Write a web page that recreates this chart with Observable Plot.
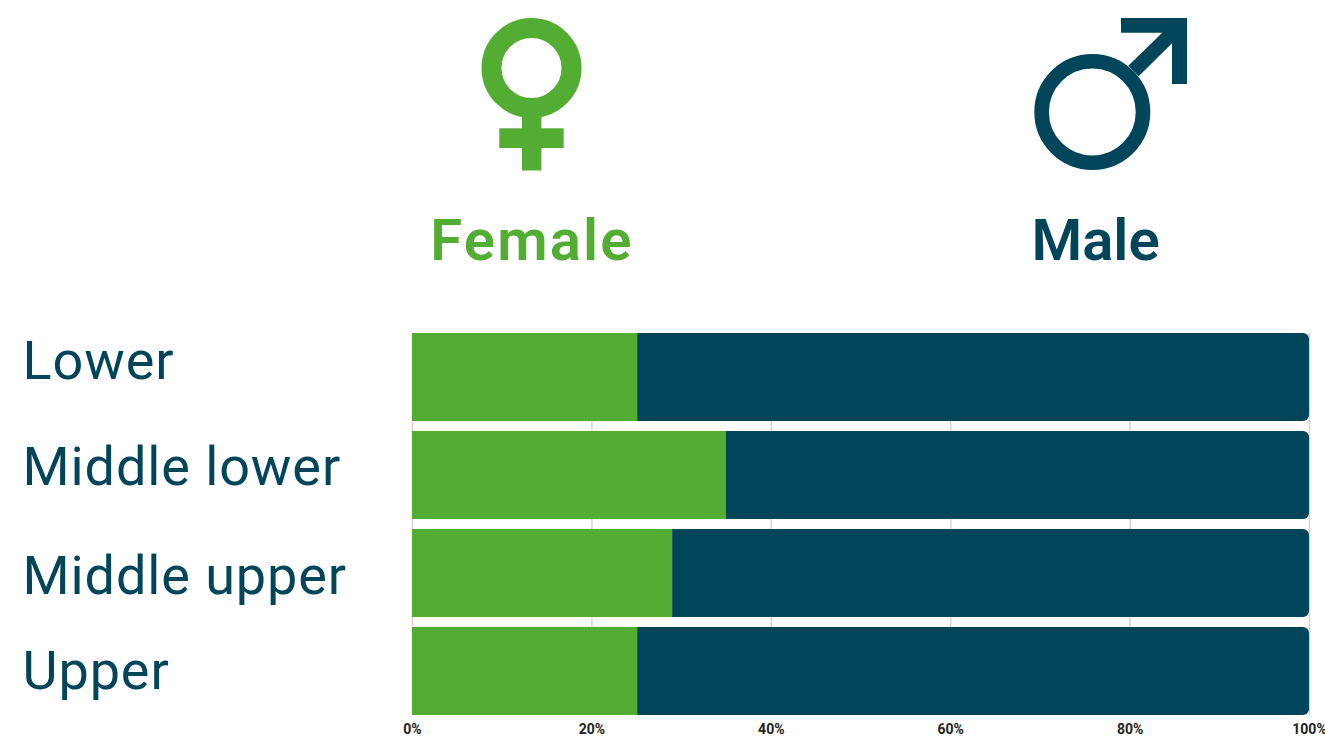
<!DOCTYPE html>
<html>
<head>
<meta charset="utf-8">
<script src="https://cdn.jsdelivr.net/npm/d3@7"></script>
<script src="https://cdn.jsdelivr.net/npm/@observablehq/plot@0.6"></script>
<style>
html,body{margin:0;padding:0;background:#fff;overflow:hidden;width:1325px;height:736px}
#head{position:relative;width:1325px;height:290px}
#head svg{position:absolute;left:0;top:0}
#chart svg{display:block}
.row-label text{letter-spacing:0.9px}
</style>
</head>
<body>
<div id="head"></div>
<div id="chart"></div>
<script>
const classes = ["Lower", "Middle lower", "Middle upper", "Upper"];
const femaleShare = [25.1, 35, 29, 25.1];
const maleShare = [74.9, 65, 71, 74.9];
const labelShift = [-16, -8, 3, 0];
const xTicks = [0, 20, 40, 60, 80, 100];
const green = "#53ad32";
const navy = "#004559";
const FONT = "Roboto, 'Noto Sans', sans-serif";

document.getElementById("head").innerHTML = `
<svg width="1325" height="290" viewBox="0 0 1325 290">
  <circle cx="531.5" cy="68" r="40" fill="none" stroke="${green}" stroke-width="20"/>
  <rect x="522" y="110" width="19.4" height="60.5" fill="${green}"/>
  <rect x="499.3" y="128.3" width="64.4" height="19.7" fill="${green}"/>
  <circle cx="1092.3" cy="112" r="50.7" fill="none" stroke="${navy}" stroke-width="14.6"/>
  <path d="M1121 18H1187V84H1172V43.3L1138.7 76.3L1128.3 65.7L1162.3 32.7H1121Z" fill="${navy}"/>
  <text x="532" y="260" text-anchor="middle" font-family="${FONT}" font-weight="600" font-size="58" letter-spacing="2.2" fill="${green}">Female</text>
  <text x="1095.5" y="260" text-anchor="middle" font-family="${FONT}" font-weight="600" font-size="58" fill="${navy}">Male</text>
</svg>`;

const rows = classes.map((c, i) => ({c, female: femaleShare[i], male: maleShare[i]}));

const plot = Plot.plot({
  width: 1325,
  height: 446,
  marginTop: 43,
  marginBottom: 21,
  marginLeft: 412,
  marginRight: 16,
  style: {background: "#fff", fontFamily: FONT},
  x: {domain: [0, 100], label: null, axis: null},
  y: {domain: classes, paddingInner: 10 / 98, paddingOuter: 0, label: null, axis: null},
  marks: [
    Plot.ruleX(xTicks, {stroke: "#d4d4d4", strokeWidth: 1.5}),
    Plot.barX(rows, {y: "c", x1: 0, x2: "female", fill: green}),
    Plot.barX(rows, {y: "c", x1: "female", x2: d => d.female + d.male, fill: navy, rx2: 6}),
    Plot.axisX(xTicks, {
      tickFormat: d => d + "%",
      tickSize: 0,
      tickPadding: 9,
      fontSize: 14,
      fontWeight: 700,
      fill: "#222",
      label: null
    }),
    ...classes.map((c, i) => Plot.text([c], {
      y: d => d,
      text: d => d,
      frameAnchor: "left",
      dx: -390,
      dy: labelShift[i],
      textAnchor: "start",
      fontSize: 54,
      fill: navy,
      className: "row-label"
    }))
  ]
});
document.getElementById("chart").appendChild(plot);
</script>
</body>
</html>
